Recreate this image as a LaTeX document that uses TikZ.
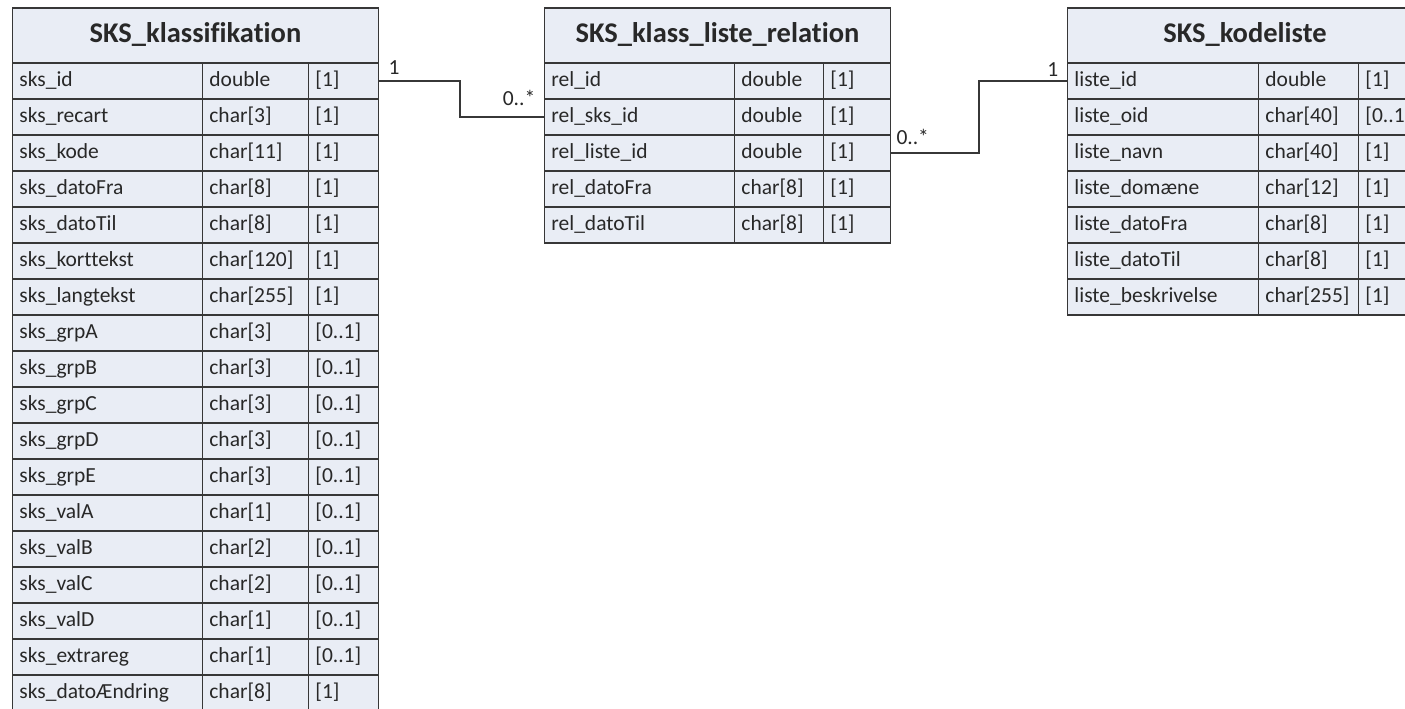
\documentclass[tikz,border=0pt]{standalone}
\usepackage{fontspec}
\setmainfont{Carlito}[Ligatures=NoCommon]
\definecolor{cellfill}{RGB}{233,237,245}
\definecolor{linec}{RGB}{55,55,55}
\definecolor{textc}{RGB}{40,40,40}
\tikzset{
  cell/.style={draw=linec, line width=1.8pt, fill=cellfill, anchor=north west,
    inner xsep=7pt, inner ysep=0pt, minimum height=36pt, align=left, text=textc,
    text height=17pt, text depth=5pt,
    font=\fontsize{21.5}{26}\selectfont},
  titlecell/.style={draw=linec, line width=1.8pt, fill=cellfill, anchor=north west,
    inner sep=0pt, minimum height=55pt, text=textc,
    text height=21pt, text depth=7pt,
    font=\fontsize{28.5}{32}\selectfont\bfseries},
  conn/.style={draw=linec, line width=1.8pt},
  mult/.style={inner sep=0pt, text=textc, font=\fontsize{21.5}{26}\selectfont}
}
% #1 name, #2 x, #3 y, #4-#6 column widths, #7 title, #8 rows
\newcommand\dbtable[8]{%
  \pgfmathsetmacro\wa{#4-14}\pgfmathsetmacro\wb{#5-14}\pgfmathsetmacro\wc{#6-14}%
  \pgfmathsetmacro\wt{#4+#5+#6}%
  \node[titlecell, minimum width=\wt pt] (#1-t) at (#2,#3) {#7};
  \foreach \a/\b/\c [count=\i] in {#8} {
    \node[cell, text width=\wa pt] (#1-\i-1) at (#2, #3+55+36*\i-36) {\a};
    \node[cell, text width=\wb pt] (#1-\i-2) at (#2+#4, #3+55+36*\i-36) {\b};
    \node[cell, text width=\wc pt] (#1-\i-3) at (#2+#4+#5, #3+55+36*\i-36) {\c};
  }
}
\begin{document}
\begin{tikzpicture}[x=1pt,y=-1pt]
\useasboundingbox (0,0) rectangle (1405,709);
\clip (0,0) rectangle (1405,709);
\fill[white] (0,0) rectangle (1405,709);

\dbtable{k}{11.5}{7}{190}{106}{70}{SKS\_klassifikation}{%
  sks\_id/double/[1],
  sks\_recart/char[3]/[1],
  sks\_kode/char[11]/[1],
  sks\_datoFra/char[8]/[1],
  sks\_datoTil/char[8]/[1],
  sks\_korttekst/char[120]/[1],
  sks\_langtekst/char[255]/[1],
  sks\_grpA/char[3]/[0..1],
  sks\_grpB/char[3]/[0..1],
  sks\_grpC/char[3]/[0..1],
  sks\_grpD/char[3]/[0..1],
  sks\_grpE/char[3]/[0..1],
  sks\_valA/char[1]/[0..1],
  sks\_valB/char[2]/[0..1],
  sks\_valC/char[2]/[0..1],
  sks\_valD/char[1]/[0..1],
  sks\_extrareg/char[1]/[0..1],
  sks\_datoÆndring/char[8]/[1]}

\dbtable{r}{543.5}{7}{190}{89}{67}{SKS\_klass\_liste\_relation}{%
  rel\_id/double/[1],
  rel\_sks\_id/double/[1],
  rel\_liste\_id/double/[1],
  rel\_datoFra/char[8]/[1],
  rel\_datoTil/char[8]/[1]}

\dbtable{l}{1066.5}{7}{191}{100}{64}{SKS\_kodeliste}{%
  liste\_id/double/[1],
  liste\_oid/char[40]/[0..1],
  liste\_navn/char[40]/[1],
  liste\_domæne/char[12]/[1],
  liste\_datoFra/char[8]/[1],
  liste\_datoTil/char[8]/[1],
  liste\_beskrivelse/char[255]/[1]}

% connectors
\draw[conn] (k-1-3.east) -- ++(81,0) |- (r-2-1.west);
\draw[conn] (r-3-3.east) -- ++(88,0) |- (l-1-1.west);

% multiplicities
\node[mult, anchor=south west] (m1) at ([shift={(9,-6)}]k-1-3.east) {1};
\node[mult, anchor=south east] (m2) at ([shift={(-8,-11)}]r-2-1.west) {0..*};
\node[mult, anchor=south west] (m3) at ([shift={(5,-8)}]r-3-3.east) {0..*};
\node[mult, anchor=south east] (m4) at ([shift={(-8,-4)}]l-1-1.west) {1};
\end{tikzpicture}
\end{document}
